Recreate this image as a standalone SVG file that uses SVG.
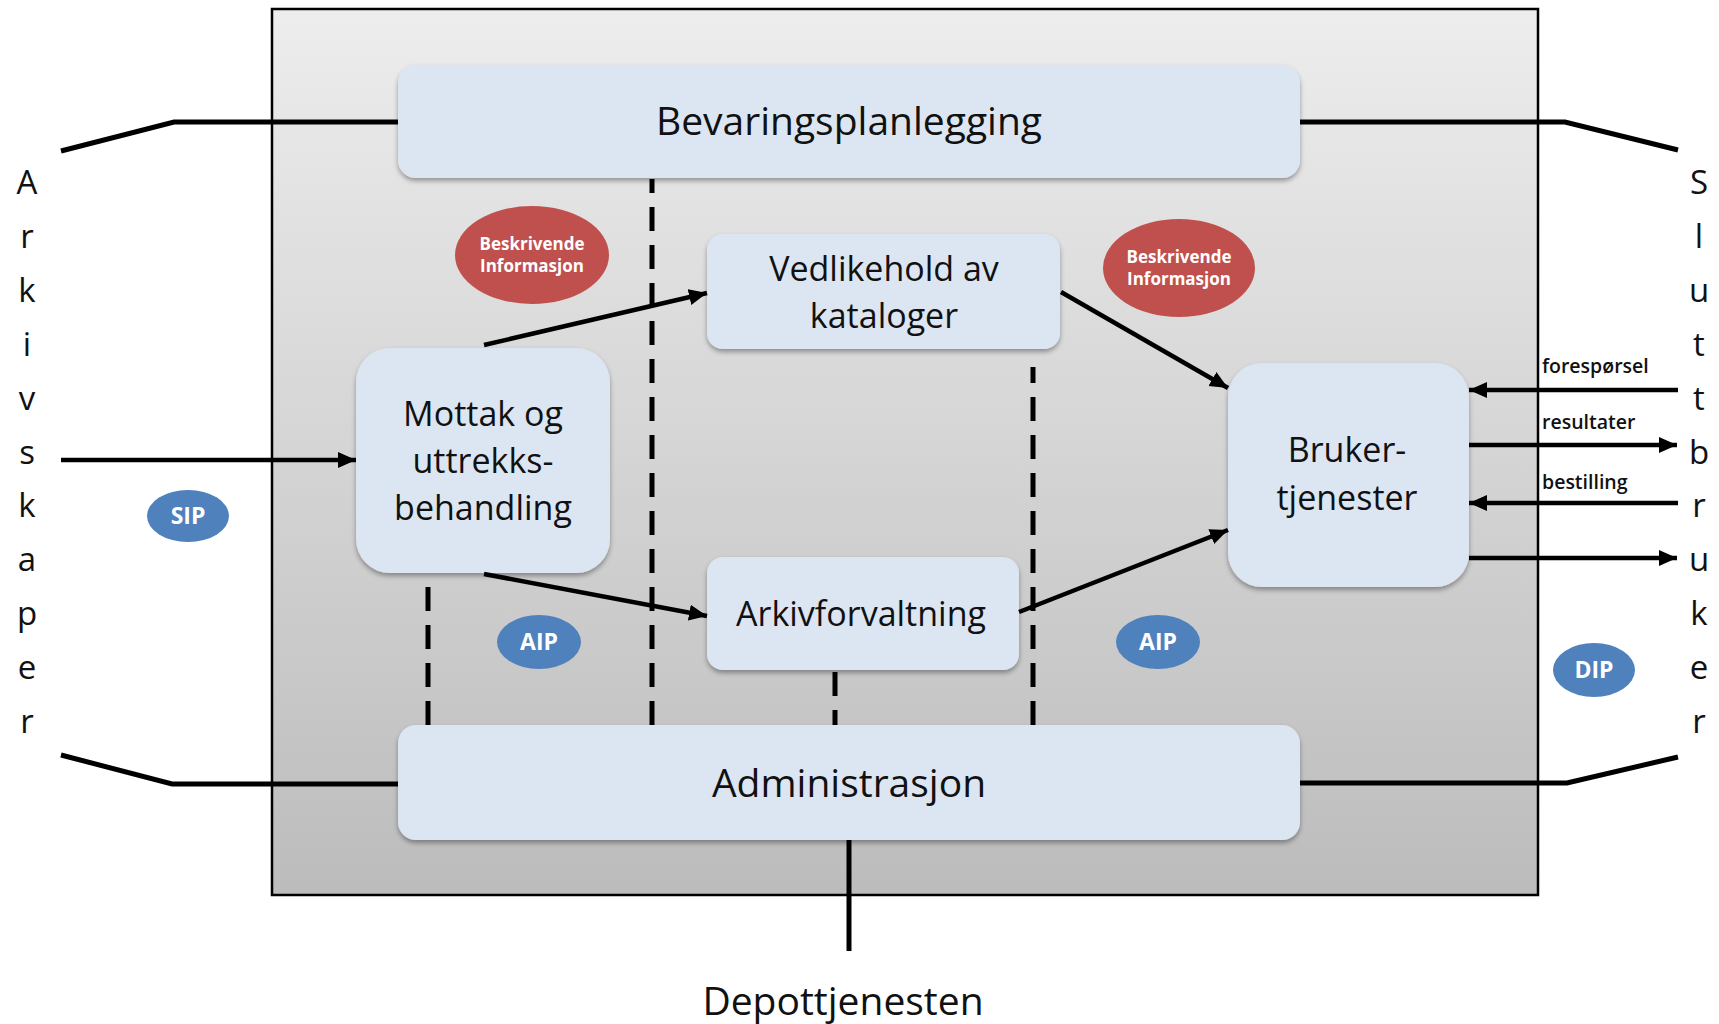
<svg xmlns="http://www.w3.org/2000/svg" width="1719" height="1024" viewBox="0 0 1719 1024">
<defs>
  <linearGradient id="bg" x1="0" y1="0" x2="0" y2="1">
    <stop offset="0" stop-color="#ededed"/>
    <stop offset="1" stop-color="#bcbcbc"/>
  </linearGradient>
  <filter id="sh" x="-10%" y="-15%" width="120%" height="140%">
    <feDropShadow dx="0" dy="3" stdDeviation="2.5" flood-color="#000" flood-opacity="0.35"/>
  </filter>
  <marker id="ah" markerUnits="userSpaceOnUse" markerWidth="20" markerHeight="18" refX="18" refY="8" orient="auto">
    <path d="M0,0 L18,8 L0,16 z" fill="#000"/>
  </marker>
</defs>
<style>
  .box{fill:#dce6f2;filter:url(#sh)}
  .t{font-family:"Open Sans","Liberation Sans",sans-serif;fill:#111;text-anchor:middle}
  .big{font-size:39px}
  .mid{font-size:34px}
  .side{font-family:"Open Sans","Liberation Sans",sans-serif;font-size:33px;fill:#111;text-anchor:middle}
  .lbl{font-family:"Open Sans","Liberation Sans",sans-serif;font-size:19.5px;font-weight:600;fill:#111}
  .red{fill:#c0504d}
  .blue{fill:#4f81bd}
  .wt{font-family:"Open Sans","Liberation Sans",sans-serif;font-weight:700;fill:#fff;text-anchor:middle}
  .ln{stroke:#000;stroke-width:5;fill:none}
  .ar{stroke:#000;stroke-width:4.5;fill:none;marker-end:url(#ah)}
  .ds{stroke:#000;stroke-width:5;fill:none;stroke-dasharray:24 14}
</style>

<rect id="frame" x="272" y="9" width="1266" height="886" fill="url(#bg)" stroke="#000" stroke-width="2.5"/>

<g id="dashes">
  <line class="ds" x1="652" y1="725" x2="652" y2="179"/>
  <line class="ds" x1="1033" y1="725" x2="1033" y2="367"/>
  <line class="ds" x1="428" y1="725" x2="428" y2="575"/>
  <line class="ds" x1="835" y1="672" x2="835" y2="725"/>
</g>

<g id="node-bevaring">
  <rect class="box" x="398" y="65" width="902" height="113" rx="18"/>
  <text class="t big" x="849" y="135">Bevaringsplanlegging</text>
</g>
<g id="node-vedlikehold">
  <rect class="box" x="707" y="234" width="353" height="115" rx="16"/>
  <text class="t mid" x="884" y="281">Vedlikehold av</text>
  <text class="t mid" x="884" y="328">kataloger</text>
</g>
<g id="node-mottak">
  <rect class="box" x="356" y="348" width="254" height="225" rx="34"/>
  <text class="t mid" x="483" y="426">Mottak og</text>
  <text class="t mid" x="483" y="473">uttrekks-</text>
  <text class="t mid" x="483" y="520">behandling</text>
</g>
<g id="node-arkiv">
  <rect class="box" x="707" y="557" width="312" height="113" rx="16"/>
  <text class="t mid" x="861" y="626">Arkivforvaltning</text>
</g>
<g id="node-bruker">
  <rect class="box" x="1228" y="363" width="241" height="224" rx="34"/>
  <text class="t mid" x="1347" y="462">Bruker-</text>
  <text class="t mid" x="1347" y="510">tjenester</text>
</g>
<g id="node-admin">
  <rect class="box" x="398" y="725" width="902" height="115" rx="18"/>
  <text class="t big" x="849" y="797">Administrasjon</text>
</g>
<g id="node-depot">
  <text class="t big" x="843" y="1015">Depottjenesten</text>
</g>

<g id="node-arkivskaper">
  <text class="side" x="27" y="194">A<tspan x="27" dy="53.9">r</tspan><tspan x="27" dy="53.9">k</tspan><tspan x="27" dy="53.9">i</tspan><tspan x="27" dy="53.9">v</tspan><tspan x="27" dy="53.9">s</tspan><tspan x="27" dy="53.9">k</tspan><tspan x="27" dy="53.9">a</tspan><tspan x="27" dy="53.9">p</tspan><tspan x="27" dy="53.9">e</tspan><tspan x="27" dy="53.9">r</tspan></text>
</g>
<g id="node-sluttbruker">
  <text class="side" x="1699" y="194">S<tspan x="1699" dy="53.9">l</tspan><tspan x="1699" dy="53.9">u</tspan><tspan x="1699" dy="53.9">t</tspan><tspan x="1699" dy="53.9">t</tspan><tspan x="1699" dy="53.9">b</tspan><tspan x="1699" dy="53.9">r</tspan><tspan x="1699" dy="53.9">u</tspan><tspan x="1699" dy="53.9">k</tspan><tspan x="1699" dy="53.9">e</tspan><tspan x="1699" dy="53.9">r</tspan></text>
</g>

<g id="node-info1">
  <ellipse class="red" cx="532" cy="255" rx="77" ry="49"/>
  <text class="wt" font-size="17" x="532" y="250">Beskrivende</text>
  <text class="wt" font-size="17" x="532" y="272">Informasjon</text>
</g>
<g id="node-info2">
  <ellipse class="red" cx="1179" cy="268" rx="76" ry="49"/>
  <text class="wt" font-size="17" x="1179" y="263">Beskrivende</text>
  <text class="wt" font-size="17" x="1179" y="285">Informasjon</text>
</g>
<g id="node-sip">
  <ellipse class="blue" cx="188" cy="516" rx="41" ry="26"/>
  <text class="wt" font-size="23" x="188" y="524">SIP</text>
</g>
<g id="node-aip1">
  <ellipse class="blue" cx="539" cy="642" rx="42" ry="27"/>
  <text class="wt" font-size="23" x="539" y="650">AIP</text>
</g>
<g id="node-aip2">
  <ellipse class="blue" cx="1158" cy="642" rx="42" ry="27"/>
  <text class="wt" font-size="23" x="1158" y="650">AIP</text>
</g>
<g id="node-dip">
  <ellipse class="blue" cx="1594" cy="670" rx="41" ry="27"/>
  <text class="wt" font-size="23" x="1594" y="678">DIP</text>
</g>

<g id="connectors">
  <polyline class="ln" points="61,151 174,122 398,122"/>
  <polyline class="ln" points="1300,122 1565,122 1678,150"/>
  <polyline class="ln" points="61,755 172,784 398,784"/>
  <polyline class="ln" points="1300,783 1567,783 1678,757"/>
  <line class="ln" x1="849" y1="840" x2="849" y2="951" stroke-width="4"/>
  <line class="ar" x1="61" y1="460" x2="356" y2="460"/>
  <line class="ar" x1="484" y1="345" x2="707" y2="293"/>
  <line class="ar" x1="484" y1="574" x2="707" y2="616"/>
  <line class="ar" x1="1061" y1="292" x2="1228" y2="388"/>
  <line class="ar" x1="1019" y1="612" x2="1228" y2="530"/>
  <line class="ar" x1="1678" y1="390" x2="1469" y2="390"/>
  <line class="ar" x1="1469" y1="445" x2="1677" y2="445"/>
  <line class="ar" x1="1678" y1="503" x2="1469" y2="503"/>
  <line class="ar" x1="1469" y1="558" x2="1677" y2="558"/>
  <text class="lbl" x="1542" y="373">forespørsel</text>
  <text class="lbl" x="1542" y="429">resultater</text>
  <text class="lbl" x="1542" y="489">bestilling</text>
</g>
</svg>
